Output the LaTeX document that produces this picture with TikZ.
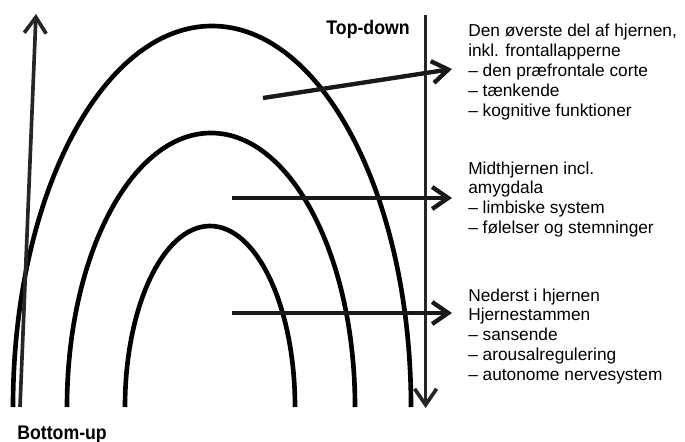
\documentclass[tikz,border=0pt]{standalone}
\usepackage{fontspec}
\setmainfont{Liberation Sans}
\newfontfamily\headfont[FakeStretch=0.9]{Liberation Sans}
\usetikzlibrary{arrows.meta}
\tikzset{
  arch/.style={line width=3.3pt},
  pointer/.style={line width=3.1pt, color=black!90, -{Straight Barb[length=4mm,width=5.5mm]}},
  axis/.style={line width=2.6pt, color=black!85, -{Straight Barb[length=4mm,width=5.5mm]}},
  note/.style={anchor=north west, align=left, inner sep=0pt, font=\fontsize{12.3}{14.2}\selectfont},
  heading/.style={inner sep=0pt, font=\headfont\fontsize{14}{16}\selectfont\bfseries},
}
\begin{document}
\begin{tikzpicture}
    \useasboundingbox (0,0) rectangle (17.125,11.025);

    % Brain layers
    \draw[arch] (0.325,0.85) arc (180:0:4.975 and 9.525);
    \draw[arch] (1.675,0.85) arc (180:0:3.6 and 6.85);
    \draw[arch] (3.125,0.85) arc (180:0:2.125 and 4.525);

    % Bottom-up and top-down axes
    \coordinate (bottom) at (0.5,0.85);
    \coordinate (up) at (0.9,10.675);
    \draw[axis] (bottom) -- (up);
    \coordinate (top) at (10.64,10.65);
    \coordinate (down) at (10.64,0.825);
    \draw[axis] (top) -- (down);
    \node[heading, anchor=base east] (topdown) at (10.25,10.15) {Top-down};
    \node[heading, anchor=base west] (bottomup) at (0.425,0.05) {Bottom-up};

    % Pointers to the descriptions
    \coordinate (cortex) at (6.575,8.575);
    \coordinate (cortexend) at (11.3,9.3);
    \draw[pointer] (cortex) -- (cortexend);
    \coordinate (limbic) at (5.8,6.075);
    \coordinate (limbicend) at (11.3,6.075);
    \draw[pointer] (limbic) -- (limbicend);
    \coordinate (stem) at (5.8,3.2);
    \coordinate (stemend) at (11.3,3.2);
    \draw[pointer] (stem) -- (stemend);

    % Descriptions
    \node[note] (cortextext) at (11.7,10.43) {Den øverste del af hjernen,\\inkl. frontallapperne\\– den præfrontale corte\\– tænkende\\– kognitive funktioner};
    \node[note] (limbictext) at (11.7,6.995) {Midthjernen incl.\\amygdala\\– limbiske system\\– følelser og stemninger};
    \node[note] (stemtext) at (11.7,3.82) {Nederst i hjernen\\Hjernestammen\\– sansende\\– arousalregulering\\– autonome nervesystem};
\end{tikzpicture}
\end{document}
